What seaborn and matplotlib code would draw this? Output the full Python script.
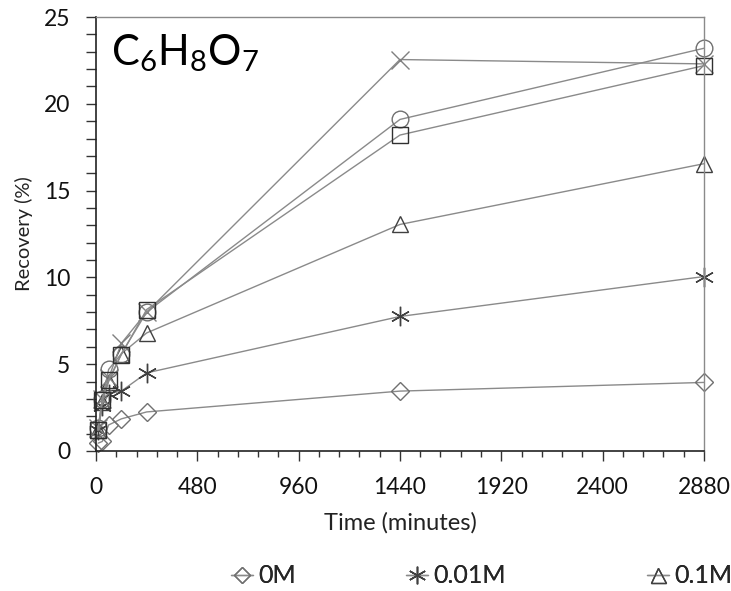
import matplotlib
matplotlib.use('Agg')
import matplotlib.pyplot as plt
import seaborn as sns
import numpy as np
from matplotlib.ticker import MultipleLocator
from matplotlib.lines import Line2D

# Data
times = [10, 30, 60, 120, 240, 1440, 2880]
rec_0M = [0.45, 0.55, 1.5, 1.85, 2.25, 3.45, 3.95]
rec_001M = [1.2, 2.6, 3.3, 3.45, 4.5, 7.75, 10.05]
rec_01M = [1.2, 2.8, 4.0, 5.6, 6.8, 13.05, 16.55]
rec_x = [1.3, 3.0, 4.2, 6.2, 8.0, 22.55, 22.3]
rec_circle = [1.3, 3.0, 4.7, 5.6, 8.0, 19.1, 23.2]
rec_square = [1.2, 2.95, 4.1, 5.55, 8.15, 18.2, 22.2]

legend_labels = ['0M', '0.01M', '0.1M']

sns.set_style('ticks')
plt.rcParams['font.family'] = ['Lato', 'DejaVu Sans']
plt.rcParams['mathtext.default'] = 'regular'

fig = plt.figure(figsize=(7.31, 5.91), dpi=100)
ax = fig.add_axes([0.1313, 0.2369, 0.8317, 0.7343])

series = [
    (rec_0M, 'D', 9, '#707070'),
    (rec_001M, (6, 2, 0), 14, '#404040'),
    (rec_01M, '^', 12, '#404040'),
    (rec_x, 'x', 13, '#808080'),
    (rec_circle, 'o', 12, '#707070'),
    (rec_square, 's', 12, '#303030'),
]

for vals, mk, ms, ec in series:
    sns.lineplot(x=times, y=vals, ax=ax, color='#8a8a8a', linewidth=1.0,
                 marker=mk, markersize=ms, markerfacecolor='none',
                 markeredgecolor=ec, markeredgewidth=1.0, clip_on=False)

ax.set_xlim(0, 2880)
ax.set_ylim(0, 25)
ax.xaxis.set_major_locator(MultipleLocator(480))
ax.xaxis.set_minor_locator(MultipleLocator(96))
ax.yaxis.set_major_locator(MultipleLocator(5))
ax.yaxis.set_minor_locator(MultipleLocator(1))
ax.tick_params(axis='both', which='major', labelsize=16.5, direction='out',
               length=7.5, width=1, color='#333333', labelcolor='#111111')
ax.tick_params(axis='x', which='major', pad=11)
ax.tick_params(axis='y', which='major', pad=11)
ax.tick_params(axis='x', which='minor', direction='out', length=4.5, width=1, color='#333333')
ax.tick_params(axis='y', which='minor', direction='out', length=7.5, width=1, color='#333333')

for s in ['left', 'bottom']:
    ax.spines[s].set_color('#222222')
    ax.spines[s].set_linewidth(1.2)
for s in ['top', 'right']:
    ax.spines[s].set_visible(True)
    ax.spines[s].set_color('#8a8a8a')
    ax.spines[s].set_linewidth(1.0)

ax.set_xlabel('Time (minutes)', fontsize=17, color='#222222', labelpad=10)
ax.set_ylabel('Recovery (%)', fontsize=14.5, color='#222222', labelpad=8)

ax.text(0.025, 0.965, r'C$_6$H$_8$O$_7$', transform=ax.transAxes, fontsize=30,
        va='top', ha='left', color='black')

# legend entries sit at fixed spots along the bottom, like the original
anchors = [0.3157, 0.555, 0.885]
for (vals, mk, ms, ec), lab, xa in zip(series[:3], legend_labels, anchors):
    h = Line2D([0], [0], color='#8a8a8a', linewidth=1.0, marker=mk,
               markersize=ms * 0.9, markerfacecolor='none',
               markeredgecolor=ec, markeredgewidth=1.0)
    leg = fig.legend([h], [lab], loc='center left', bbox_to_anchor=(xa, 0.0254),
                     frameon=False, fontsize=18, handlelength=0.9,
                     handletextpad=0.2, borderaxespad=0, borderpad=0)
    fig.add_artist(leg)

fig.savefig('out.png', dpi=100)
